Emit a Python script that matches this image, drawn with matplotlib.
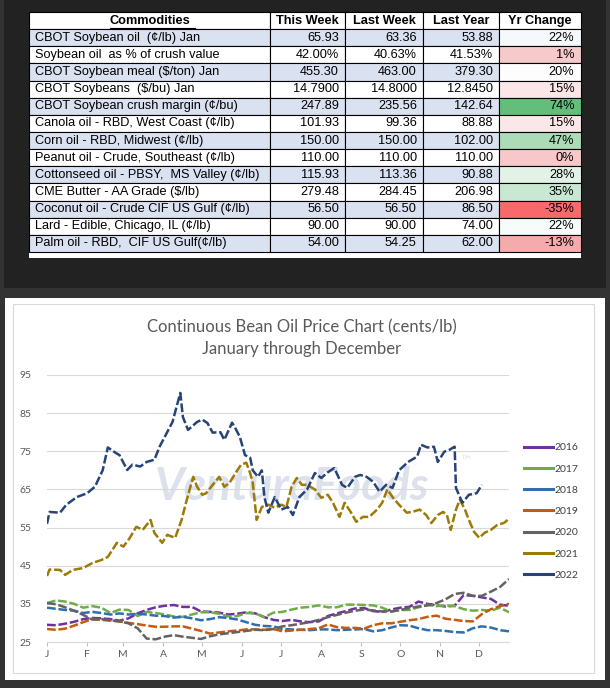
import numpy as np
import matplotlib
matplotlib.use("Agg")
import matplotlib.pyplot as plt
from matplotlib.patches import Rectangle
from matplotlib.lines import Line2D
from matplotlib.table import Table

# ---- table data ----
commodities = ["CBOT Soybean oil  (\u00a2/lb) Jan", "Soybean oil  as % of crush value",
               "CBOT Soybean meal ($/ton) Jan", "CBOT Soybeans  ($/bu) Jan",
               "CBOT Soybean crush margin (\u00a2/bu)", "Canola oil - RBD, West Coast (\u00a2/lb)",
               "Corn oil - RBD, Midwest (\u00a2/lb)", "Peanut oil - Crude, Southeast (\u00a2/lb)",
               "Cottonseed oil - PBSY,  MS Valley (\u00a2/lb)", "CME Butter - AA Grade ($/lb)",
               "Coconut oil - Crude CIF US Gulf (\u00a2/lb)", "Lard - Edible, Chicago, IL (\u00a2/lb)",
               "Palm oil - RBD,  CIF US Gulf(\u00a2/lb)"]
this_week = ["65.93", "42.00%", "455.30", "14.7900", "247.89", "101.93", "150.00",
             "110.00", "115.93", "279.48", "56.50", "90.00", "54.00"]
last_week = ["63.36", "40.63%", "463.00", "14.8000", "235.56", "99.36", "150.00",
             "110.00", "113.36", "284.45", "56.50", "90.00", "54.25"]
last_year = ["53.88", "41.53%", "379.30", "12.8450", "142.64", "88.88", "102.00",
             "110.00", "90.88", "206.98", "86.50", "74.00", "62.00"]
yr_change = ["22%", "1%", "20%", "15%", "74%", "15%", "47%", "0%", "28%", "35%",
             "-35%", "22%", "-13%"]
change_colors = ["#f6f9fc", "#f6c9ca", "#fdfdfe", "#fbe6e7", "#63be7b", "#fbe7e8", "#acdbb8",
                 "#f7c8c9", "#e3f2e7", "#c9e8d2", "#f8696b", "#f7fbf9", "#f5aaab"]
headers = ["Commodities", "This Week", "Last Week", "Last Year", "Yr Change"]

# ---- chart data (cents/lb), x = day of year ----
month_labels = ["J", "F", "M", "A", "M", "J", "J", "A", "S", "O", "N", "D"]
month_days = [0, 31, 59, 90, 120, 151, 181, 212, 243, 273, 304, 334]
week_days = np.arange(52) * 7

y2016 = [29.5, 29.4, 29.8, 30.3, 31.0, 31.3, 31.2, 31.0, 30.6, 31.2, 32.5, 33.4, 34.1, 34.5, 34.7,
         34.2, 34.2, 33.0, 32.9, 32.7, 32.2, 32.4, 32.8, 32.5, 31.5, 30.8, 30.5, 30.8, 30.4, 30.2,
         30.4, 31.8, 32.5, 33.1, 33.8, 33.9, 33.1, 32.9, 33.5, 34.0, 34.2, 35.6, 35.0, 34.6, 34.3,
         34.5, 37.3, 37.1, 36.7, 36.3, 34.8, 34.5]
y2017 = [35.2, 35.9, 35.6, 35.0, 34.0, 34.4, 34.0, 32.6, 33.5, 33.4, 31.8, 32.9, 32.6, 32.2, 31.7,
         31.6, 32.2, 32.8, 32.8, 32.4, 31.7, 31.8, 32.6, 32.5, 31.5, 32.7, 32.9, 33.5, 34.0, 34.2,
         34.6, 34.1, 34.1, 34.8, 34.8, 34.7, 34.6, 34.0, 33.0, 33.4, 33.4, 34.1, 34.7, 34.4, 34.6,
         34.4, 33.6, 33.2, 33.4, 33.2, 34.0, 32.8]
y2018 = [34.0, 33.7, 33.4, 33.2, 32.6, 32.9, 32.6, 32.2, 32.5, 32.2, 32.4, 32.2, 31.9, 31.8, 31.4,
         31.6, 31.2, 30.7, 31.0, 31.5, 31.3, 30.9, 30.2, 29.5, 29.2, 29.1, 28.4, 28.3, 28.2, 28.1,
         28.3, 28.3, 28.1, 28.2, 28.3, 28.4, 27.8, 28.1, 28.8, 29.4, 29.3, 28.6, 28.1, 28.1, 27.9,
         27.6, 27.5, 28.6, 29.1, 28.8, 28.1, 27.8]
y2019 = [28.4, 28.2, 28.5, 29.3, 30.2, 31.0, 30.8, 30.6, 30.4, 30.0, 29.7, 29.3, 29.0, 29.0, 29.1,
         29.1, 28.5, 27.9, 27.2, 27.5, 27.8, 28.0, 28.3, 28.3, 28.2, 28.4, 27.8, 28.0, 28.2, 28.4,
         28.6, 29.6, 28.9, 28.7, 28.7, 28.5, 29.4, 29.9, 29.9, 30.3, 30.7, 31.0, 31.6, 31.9, 31.1,
         30.8, 30.5, 30.4, 32.3, 33.6, 34.4, 35.0]
y2020 = [35.2, 34.9, 34.1, 33.2, 32.1, 30.9, 31.0, 30.7, 30.4, 29.9, 28.6, 25.9, 25.7, 26.4, 26.8,
         26.4, 26.1, 25.8, 26.5, 27.0, 27.3, 27.6, 27.9, 28.2, 28.1, 28.4, 29.1, 29.4, 29.8, 30.2,
         30.8, 31.5, 32.1, 32.7, 33.2, 33.5, 33.3, 33.0, 33.0, 33.4, 33.9, 34.3, 34.6, 35.2, 36.2,
         37.6, 37.9, 37.1, 37.1, 38.2, 39.4, 41.5]

d2021 = [0, 2, 10, 14, 20, 28, 35, 42, 47, 54, 59, 64, 69, 74, 80, 83, 89, 93, 99, 104, 108, 113,
         116, 120, 123, 128, 133, 137, 141, 147, 150, 154, 157, 159, 162, 166, 171, 176, 181, 185,
         189, 193, 197, 201, 207, 212, 217, 221, 226, 230, 235, 239, 244, 249, 255, 259, 263, 267,
         272, 278, 282, 288, 293, 297, 302, 306, 309, 312, 316, 319, 323, 326, 330, 334, 338, 343,
         348, 353, 356]
y2021 = [42.3, 44.0, 43.9, 42.6, 43.9, 44.4, 45.7, 46.5, 47.3, 51.0, 50.0, 52.3, 55.2, 54.4, 57.0,
         53.6, 51.0, 53.1, 52.3, 57.0, 62.3, 68.3, 65.7, 63.6, 64.0, 66.2, 68.3, 65.7, 66.7, 70.0,
         71.5, 72.0, 69.3, 66.7, 57.0, 60.4, 61.0, 60.2, 61.0, 60.4, 65.7, 68.0, 66.2, 66.2, 65.0,
         62.8, 63.6, 61.5, 57.8, 61.5, 58.9, 56.5, 57.8, 57.8, 59.7, 61.5, 65.0, 63.0, 61.0, 58.9,
         59.1, 59.7, 58.3, 56.2, 58.3, 59.1, 58.3, 54.4, 59.7, 62.3, 59.7, 57.0, 53.9, 52.3, 53.6,
         54.4, 55.7, 56.2, 57.0]
d2022 = [0, 2, 10, 15, 23, 31, 37, 43, 47, 53, 56, 62, 66, 72, 77, 83, 87, 93, 97, 103, 105, 109,
         116, 120, 124, 128, 134, 137, 143, 145, 149, 153, 157, 159, 163, 166, 168, 171, 176, 181,
         186, 190, 195, 201, 207, 212, 217, 222, 228, 232, 238, 242, 247, 252, 257, 262, 267, 272,
         279, 286, 289, 294, 299, 302, 307, 311, 315, 316, 321, 326, 332, 336]
y2022 = [56.0, 59.1, 58.9, 61.0, 63.0, 64.0, 65.7, 70.0, 76.0, 74.6, 74.0, 70.1, 71.5, 71.0, 72.2,
         72.8, 76.2, 80.1, 82.7, 90.3, 84.0, 80.6, 82.7, 83.3, 82.4, 79.9, 80.0, 78.0, 82.5, 81.4,
         78.8, 74.0, 73.3, 70.0, 68.3, 70.0, 63.0, 58.9, 63.0, 59.7, 60.4, 58.3, 63.0, 65.0, 69.3,
         68.0, 69.5, 70.6, 66.2, 65.4, 68.3, 68.8, 68.3, 67.0, 64.4, 66.2, 65.4, 70.0, 72.2, 73.6,
         76.7, 76.0, 76.2, 72.2, 74.9, 75.4, 76.2, 65.4, 61.5, 63.6, 64.0, 66.2]

years = ["2016", "2017", "2018", "2019", "2020", "2021", "2022"]
colors = ["#7030a0", "#70ad47", "#2e6fb0", "#c55a11", "#636363", "#9c7a06", "#264478"]
series = [(week_days, y2016), (week_days, y2017), (week_days, y2018), (week_days, y2019),
          (week_days, y2020), (d2021, y2021), (d2022, y2022)]

W, H = 610, 688
fig = plt.figure(figsize=(W / 100, H / 100), dpi=100, facecolor="#333333")

# background panels
bg = fig.add_axes([0, 0, 1, 1])
bg.set_xlim(0, W)
bg.set_ylim(H, 0)
bg.axis("off")
bg.add_patch(Rectangle((4, 0), 602, 288, facecolor="#222222", edgecolor="none"))
bg.add_patch(Rectangle((5, 298), 600, 382, facecolor="white", edgecolor="none"))
bg.add_patch(Rectangle((13, 304), 581, 369, facecolor="white", edgecolor="#d9d9d9", lw=0.8))
bg.add_patch(Rectangle((29, 248), 552, 10, facecolor="white", edgecolor="none"))

# ---- table ----
tfont = ["Liberation Sans", "DejaVu Sans"]
tax = fig.add_axes([29 / W, 1 - 252 / H, 552 / W, 240 / H])
tax.axis("off")
col_w = np.array([241, 75, 78, 76, 82]) / 552.0
nrows = len(commodities) + 1
tbl = Table(tax, bbox=[0, 0, 1, 1])
for c, h in enumerate(headers):
    cell = tbl.add_cell(0, c, col_w[c], 1.0 / nrows, text=h, loc="center",
                        facecolor="white", edgecolor="black")
    cell.get_text().set_fontweight("bold")
for r in range(len(commodities)):
    shade = "#dae1f1" if r % 2 == 0 else "white"
    row = [commodities[r], this_week[r], last_week[r], last_year[r], yr_change[r]]
    for c, txt in enumerate(row):
        fc = change_colors[r] if c == 4 else shade
        cell = tbl.add_cell(r + 1, c, col_w[c], 1.0 / nrows, text=txt,
                            loc="left" if c == 0 else "right", facecolor=fc, edgecolor="black")
        cell.PAD = 0.025 if c == 0 else 0.08
tbl.auto_set_font_size(False)
for cell in tbl.get_celld().values():
    cell.set_linewidth(0.8)
    cell.get_text().set_fontsize(9.2)
    cell.get_text().set_family(tfont)
tax.add_table(tbl)
# underline under the "Commodities" header
fig.add_artist(Line2D([110 / W, 195 / W], [1 - 27.5 / H, 1 - 27.5 / H], color="black", lw=0.8,
                      transform=fig.transFigure, zorder=10))

# ---- chart ----
ax = fig.add_axes([47 / W, 1 - 642 / H, 462 / W, 267 / H])
ax.set_facecolor("none")
ax.set_xlim(0, 357)
ax.set_ylim(25, 95)
ax.set_yticks(range(25, 96, 10))
ax.set_xticks(month_days)
ax.set_xticklabels(month_labels)
ax.grid(axis="y", color="#d9d9d9", lw=0.8)
ax.set_axisbelow(True)
for s in ["top", "right", "left"]:
    ax.spines[s].set_visible(False)
ax.spines["bottom"].set_color("#d9d9d9")
ax.tick_params(axis="y", length=0, pad=11, labelsize=7.5, labelcolor="#595959")
ax.tick_params(axis="x", length=3, color="#bfbfbf", pad=3, labelsize=7.5, labelcolor="#595959")
for lab in ax.get_xticklabels() + ax.get_yticklabels():
    lab.set_family(["Lato", "DejaVu Sans"])

ax.text(0.53, 0.58, "VenturaFoods", transform=ax.transAxes, ha="center", va="center",
        fontsize=33, fontweight="bold", style="italic", color="#dde1ec", zorder=0,
        family=["Lato", "DejaVu Sans"])
ax.text(0.905, 0.675, "\u2122", transform=ax.transAxes, ha="center", va="center",
        fontsize=9, color="#dde1ec", zorder=0)

for (xd, yv), col in zip(series, colors):
    ax.plot(xd, yv, color=col, lw=1.8, dashes=(3.5, 1.1), solid_capstyle="butt", zorder=2)

fig.text(302 / W, 1 - 327 / H, "Continuous Bean Oil Price Chart (cents/lb)", ha="center",
         va="center", fontsize=12, color="#595959", family=["Lato", "DejaVu Sans"])
fig.text(302 / W, 1 - 349 / H, "January through December", ha="center", va="center",
         fontsize=12, color="#595959", family=["Lato", "DejaVu Sans"])

handles = [Line2D([], [], color=c, lw=2.2) for c in colors]
fig.legend(handles, years, loc="upper left", bbox_to_anchor=(524 / W, 1 - 443 / H),
           frameon=False, handlelength=2.8, handletextpad=0.15,
           labelspacing=1.15, borderpad=0, borderaxespad=0,
           prop={"family": ["Lato", "DejaVu Sans"], "size": 7.5}, labelcolor="#404040")

fig.savefig("out.png", dpi=100, facecolor=fig.get_facecolor())
